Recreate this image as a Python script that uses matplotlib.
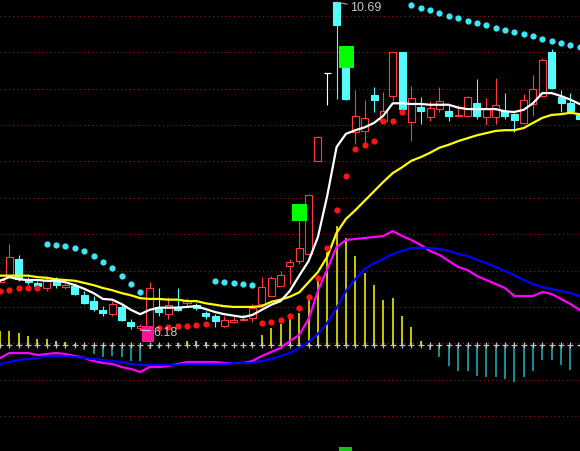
import numpy as np
import matplotlib
matplotlib.use('Agg')
import matplotlib.pyplot as plt
from matplotlib.patches import Rectangle

# K线 开 高 低 收
opens = [6.84, 6.93, 7.16, 6.87, 6.83, 6.76, 6.86, 6.77, 6.79, 6.66,
         6.58, 6.46, 6.40, 6.50, 6.29, 6.21, 6.24, 6.50, 6.40, 6.50,
         6.55, 6.53, 6.42, 6.38, 6.24, 6.29, 6.32, 6.35, 6.54, 6.65,
         6.79, 7.06, 7.13, 7.23, 8.51, 9.72, 10.69, 9.91, 8.90, 8.92,
         9.41, 9.06, 9.40, 10.00, 9.04, 9.25, 9.11, 9.22, 9.19, 9.13,
         9.13, 9.30, 9.11, 9.11, 9.19, 9.15, 9.03, 9.29, 9.40, 10.00,
         9.39, 9.30, 9.14]
highs = [6.89, 7.37, 7.21, 6.91, 6.86, 6.93, 6.91, 6.83, 6.83, 6.72,
         6.65, 6.51, 6.58, 6.53, 6.33, 6.27, 6.84, 6.76, 6.64, 6.76,
         6.62, 6.55, 6.44, 6.40, 6.38, 6.38, 6.40, 6.54, 6.91, 6.93,
         6.99, 7.16, 7.71, 8.05, 8.85, 9.72, 10.69, 9.95, 9.48, 9.35,
         9.52, 9.46, 10.01, 10.01, 9.54, 9.39, 9.33, 9.52, 9.29, 9.28,
         9.40, 9.63, 9.37, 9.65, 9.44, 9.16, 9.43, 9.69, 9.92, 10.05,
         9.48, 9.44, 9.16]
lows = [6.83, 6.92, 6.86, 6.82, 6.76, 6.72, 6.76, 6.75, 6.66, 6.54,
        6.44, 6.38, 6.38, 6.31, 6.20, 6.18, 6.22, 6.38, 6.33, 6.44,
        6.51, 6.46, 6.33, 6.22, 6.23, 6.28, 6.31, 6.29, 6.54, 6.65,
        6.79, 6.82, 7.09, 7.22, 8.50, 9.28, 9.36, 9.35, 8.74, 8.71,
        9.18, 9.04, 9.33, 9.20, 8.78, 9.02, 9.06, 9.18, 9.06, 9.12,
        9.11, 9.08, 9.00, 9.02, 9.08, 8.91, 9.02, 9.13, 9.38, 9.50,
        9.18, 9.15, 9.06]
closes = [6.87, 7.19, 6.88, 6.84, 6.79, 6.86, 6.80, 6.80, 6.68, 6.55,
          6.47, 6.42, 6.54, 6.32, 6.24, 6.24, 6.76, 6.43, 6.53, 6.46,
          6.58, 6.49, 6.38, 6.31, 6.32, 6.32, 6.33, 6.49, 6.77, 6.90,
          6.94, 7.12, 7.31, 8.04, 8.84, 9.72, 10.38, 9.36, 9.13, 9.10,
          9.35, 9.19, 10.00, 9.22, 9.37, 9.19, 9.24, 9.33, 9.13, 9.14,
          9.39, 9.13, 9.22, 9.28, 9.13, 9.07, 9.35, 9.50, 9.90, 9.51,
          9.30, 9.19, 9.08]

# 均线
ma_white = [6.86, 6.91, 6.88, 6.87, 6.87, 6.86, 6.86, 6.84, 6.80, 6.75,
            6.69, 6.61, 6.60, 6.54, 6.46, 6.40, 6.46, 6.49, 6.49, 6.49,
            6.50, 6.51, 6.47, 6.43, 6.40, 6.38, 6.36, 6.39, 6.46, 6.53,
            6.58, 6.72, 6.93, 7.13, 7.46, 8.03, 8.70, 8.88, 8.93, 8.97,
            9.03, 9.13, 9.30, 9.30, 9.29, 9.29, 9.28, 9.28, 9.28, 9.24,
            9.22, 9.22, 9.22, 9.22, 9.19, 9.18, 9.21, 9.30, 9.44, 9.44,
            9.40, 9.35, 9.29]
ma_yellow = [6.93, 6.93, 6.93, 6.93, 6.91, 6.90, 6.88, 6.87, 6.86, 6.83,
             6.80, 6.76, 6.73, 6.69, 6.66, 6.62, 6.61, 6.61, 6.60, 6.60,
             6.58, 6.58, 6.55, 6.53, 6.51, 6.50, 6.50, 6.50, 6.51, 6.57,
             6.60, 6.64, 6.70, 6.84, 6.98, 7.19, 7.52, 7.71, 7.83, 7.96,
             8.09, 8.22, 8.34, 8.42, 8.51, 8.56, 8.62, 8.69, 8.73, 8.78,
             8.82, 8.86, 8.89, 8.92, 8.93, 8.93, 8.96, 9.03, 9.10, 9.14,
             9.15, 9.17, 9.15]

# SAR 点
sar_up_idx = [0, 1, 2, 3, 4, 17, 18, 19, 20, 21, 22,
              28, 29, 30, 31, 32, 33, 34, 35, 36, 37, 38, 39, 40, 41, 42, 43]
sar_up_val = [6.72, 6.73, 6.76, 6.76, 6.76, 6.21, 6.22, 6.24, 6.24, 6.25, 6.27,
              6.28, 6.29, 6.32, 6.38, 6.49, 6.64, 6.90, 7.31, 7.83, 8.30, 8.67,
              8.73, 8.78, 9.06, 9.06, 9.18]
sar_dn_idx = [5, 6, 7, 8, 9, 10, 11, 12, 13, 14, 15, 23, 24, 25, 26, 27,
              44, 45, 46, 47, 48, 49, 50, 51, 52, 53, 54, 55, 56, 57, 58, 59, 60, 61, 62]
sar_dn_val = [7.37, 7.35, 7.34, 7.31, 7.27, 7.20, 7.12, 7.03, 6.93, 6.82, 6.70,
              6.86, 6.84, 6.83, 6.82, 6.80,
              10.65, 10.61, 10.58, 10.54, 10.50, 10.47, 10.43, 10.40, 10.38, 10.34,
              10.31, 10.28, 10.25, 10.23, 10.18, 10.16, 10.13, 10.10, 10.07]

# 信号方块 (位置, 下沿, 上沿, 颜色)
sig_idx = [15.8, 32.0, 37.1]
sig_lo = [6.02, 7.68, 9.78]
sig_hi = [6.24, 7.92, 10.09]
sig_w = [1.25, 1.6, 1.6]
sig_col = ['#ff1493', '#00ff00', '#00ff00']

# MACD
macd_bar = [0.14, 0.14, 0.12, 0.09, 0.06, 0.06, 0.04, 0.03, 0.01, -0.05,
            -0.09, -0.12, -0.11, -0.12, -0.16, -0.16, -0.04, -0.03, 0.00, 0.02,
            0.04, 0.04, 0.03, 0.02, 0.00, 0.00, 0.00, 0.03, 0.10, 0.17,
            0.21, 0.31, 0.32, 0.47, 0.69, 0.93, 1.19, 1.07, 0.89, 0.72,
            0.60, 0.45, 0.47, 0.29, 0.18, 0.04, -0.05, -0.12, -0.21, -0.26,
            -0.26, -0.31, -0.32, -0.32, -0.34, -0.37, -0.32, -0.26, -0.15, -0.15,
            -0.20, -0.25, 0.00]
dif = [-0.13, -0.08, -0.08, -0.08, -0.10, -0.09, -0.08, -0.09, -0.11, -0.13,
       -0.16, -0.18, -0.19, -0.22, -0.24, -0.27, -0.22, -0.22, -0.21, -0.19,
       -0.17, -0.17, -0.17, -0.17, -0.18, -0.18, -0.18, -0.16, -0.11, -0.07,
       -0.03, 0.04, 0.10, 0.26, 0.54, 0.76, 0.98, 1.05, 1.06, 1.07,
       1.08, 1.09, 1.14, 1.09, 1.05, 1.00, 0.94, 0.90, 0.84, 0.78,
       0.75, 0.69, 0.65, 0.61, 0.57, 0.49, 0.49, 0.49, 0.53, 0.51,
       0.46, 0.41, 0.35]
dea = [-0.19, -0.17, -0.15, -0.14, -0.13, -0.11, -0.11, -0.11, -0.12, -0.13,
       -0.14, -0.15, -0.16, -0.17, -0.19, -0.20, -0.20, -0.20, -0.20, -0.20,
       -0.19, -0.19, -0.19, -0.19, -0.19, -0.18, -0.18, -0.18, -0.16, -0.14,
       -0.11, -0.08, -0.03, 0.03, 0.11, 0.22, 0.37, 0.54, 0.66, 0.76,
       0.82, 0.86, 0.91, 0.94, 0.97, 0.97, 0.97, 0.96, 0.94, 0.91,
       0.89, 0.85, 0.82, 0.78, 0.74, 0.70, 0.65, 0.61, 0.58, 0.56,
       0.54, 0.52, 0.49]

price_grid = [10.5, 10.0, 9.5, 9.0, 8.5, 8.0, 7.5, 7.0, 6.5, 6.0, 5.5, 5.0]

RED = '#ff3a3a'
CYAN = '#54fcfc'

o = np.array(opens); h = np.array(highs); l = np.array(lows); c = np.array(closes)
x = np.arange(len(o))
xlim = (0, 62.03)

fig = plt.figure(figsize=(5.8, 4.52), dpi=100, facecolor='black')
ax_m = fig.add_axes([0, 0, 1, 1])
ax = fig.add_axes([0, 0, 1, 1])
for a in (ax_m, ax):
    a.set_xlim(*xlim)
    a.axis('off')
ax.set_ylim(4.519, 10.734)
ax_m.set_ylim(-1.06, 3.46)

# 网格
ax_m.hlines(price_grid, xlim[0], xlim[1], colors='#a01414', linestyles=(0, (1, 3)),
            lw=0.75, transform=ax.transData)

# MACD 部分
bar = np.array(macd_bar)
pos = bar > 0
neg = bar < 0
ax_m.vlines(x[pos], 0, bar[pos], colors='#ffff00', lw=1.1)
ax_m.vlines(x[neg], 0, bar[neg], colors='#1fb5c5', lw=1.1)
ax_m.plot(x, np.zeros(len(x)), '+', color='#c4c4c4', ms=4, mew=0.9)
ax_m.plot(x, dif, color='#ff00ff', lw=1.6)
ax_m.plot(x, dea, color='#0000ff', lw=1.6)

# K线
up = c > o
dn = c < o
flat = c == o
wick_col = np.where(up, RED, np.where(dn, CYAN, 'white'))
ax.vlines(x, l, h, colors=list(wick_col), lw=0.8, zorder=2)
ax.bar(x[up], (c - o)[up], bottom=o[up], width=0.75, facecolor='black',
       edgecolor=RED, lw=0.8, zorder=3)
ax.bar(x[dn], (o - c)[dn], bottom=c[dn], width=0.75, facecolor=CYAN,
       edgecolor=CYAN, lw=0.8, zorder=3)
ax.hlines(o[flat], x[flat] - 0.375, x[flat] + 0.375, colors='white', lw=0.9, zorder=3)

# 均线
ax.plot(x, ma_yellow, color='#ffff00', lw=1.6, zorder=4)
ax.plot(x, ma_white, color='white', lw=1.6, zorder=4)

# SAR
ax.plot(sar_up_idx, sar_up_val, 'o', color='#ff1414', ms=4.5, mec='none', zorder=5)
ax.plot(sar_dn_idx, sar_dn_val, 'o', color='#3ee6f5', ms=4.5, mec='none', zorder=5)

# 信号方块
for sx, lo, hi, w, col in zip(sig_idx, sig_lo, sig_hi, sig_w, sig_col):
    ax.add_patch(Rectangle((sx - w / 2, lo), w, hi - lo, facecolor=col,
                           edgecolor='none', zorder=6))

# 最高最低价标注
imax = int(np.argmax(h))
imin = int(np.argmin(l))
ax.annotate(f'{h[imax]:.2f}', xy=(imax, h[imax]), xytext=(9.6, -3.8),
            textcoords='offset points', color='#c4c4c4', fontsize=9,
            family='Liberation Sans', ha='left', va='center', zorder=7,
            arrowprops=dict(arrowstyle='-', color='#aaaaaa', lw=0.8, shrinkA=0, shrinkB=0))
ax.annotate(f'{l[imin]:.2f}', xy=(imin, l[imin]), xytext=(9.2, -1.0),
            textcoords='offset points', color='#c8c8c8', fontsize=9,
            family='Liberation Sans', ha='left', va='center', zorder=7,
            arrowprops=dict(arrowstyle='-', color='#c8c8c8', lw=0.8, shrinkA=0, shrinkB=0))

# 底部小图标
ax.add_patch(Rectangle((0.584, 0.0), 0.0224, 0.009, transform=ax.transAxes,
                       facecolor='#18c018', edgecolor='none', zorder=7, clip_on=False))

fig.savefig('out.png', dpi=100, facecolor='black')
